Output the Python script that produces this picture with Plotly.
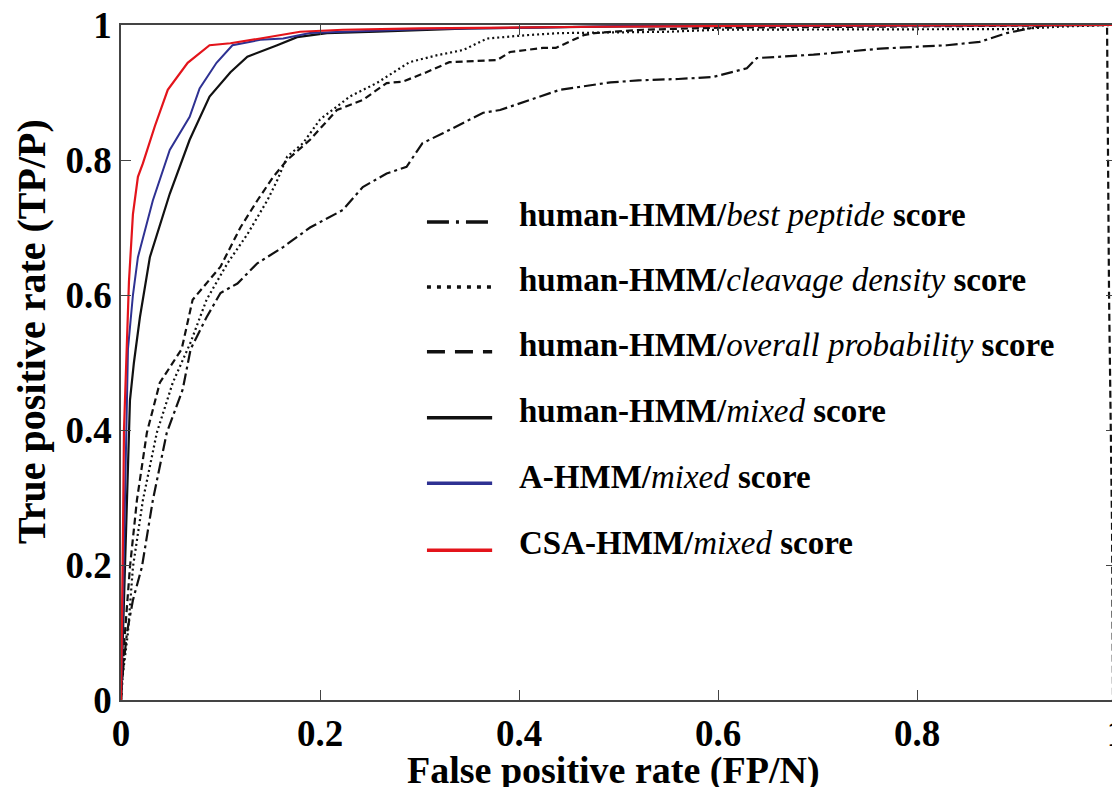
import plotly.graph_objects as go

# ---- data ----
csa_x = [0, 0.001, 0.002, 0.003, 0.005, 0.006, 0.008, 0.012, 0.017, 0.022, 0.034, 0.047, 0.067, 0.089, 0.11, 0.14, 0.18, 0.223, 0.3, 0.45, 0.65, 1.0]
csa_y = [0, 0.1, 0.25, 0.4, 0.48, 0.52, 0.62, 0.72, 0.775, 0.795, 0.85, 0.904, 0.944, 0.97, 0.973, 0.98, 0.99, 0.993, 0.995, 0.997, 0.999, 1.0]

a_x = [0, 0.002, 0.004, 0.006, 0.007, 0.012, 0.017, 0.032, 0.049, 0.069, 0.079, 0.096, 0.112, 0.14, 0.163, 0.19, 0.223, 0.31, 0.5, 1.0]
a_y = [0, 0.15, 0.3, 0.4, 0.52, 0.6, 0.656, 0.74, 0.815, 0.864, 0.906, 0.944, 0.97, 0.978, 0.98, 0.988, 0.99, 0.994, 0.998, 1.0]

mixed_x = [0, 0.002, 0.004, 0.006, 0.009, 0.013, 0.019, 0.029, 0.049, 0.069, 0.089, 0.11, 0.127, 0.157, 0.177, 0.207, 0.257, 0.35, 0.5, 1.0]
mixed_y = [0, 0.1, 0.2, 0.3, 0.444, 0.5, 0.567, 0.656, 0.75, 0.83, 0.894, 0.93, 0.953, 0.97, 0.982, 0.988, 0.99, 0.995, 0.998, 1.0]

overall_x = [0, 0.001, 0.004, 0.009, 0.016, 0.026, 0.039, 0.061, 0.072, 0.1, 0.12, 0.137, 0.153, 0.167, 0.19, 0.217, 0.243, 0.267, 0.283, 0.307, 0.33, 0.378, 0.391, 0.424, 0.437, 0.465, 0.476, 0.525, 0.6, 0.9, 0.991, 0.993, 0.996, 0.997]
overall_y = [0, 0.03, 0.1, 0.197, 0.296, 0.396, 0.47, 0.52, 0.593, 0.642, 0.70, 0.74, 0.775, 0.80, 0.83, 0.874, 0.889, 0.914, 0.916, 0.93, 0.945, 0.948, 0.96, 0.966, 0.966, 0.985, 0.988, 0.993, 0.996, 0.999, 1.0, 0.6, 0.26, 0.0]

cleavage_x = [0, 0.002, 0.007, 0.012, 0.022, 0.036, 0.052, 0.07, 0.086, 0.107, 0.127, 0.147, 0.157, 0.167, 0.183, 0.2, 0.23, 0.257, 0.29, 0.317, 0.344, 0.368, 0.408, 0.441, 0.55, 0.6, 0.9, 0.95, 1.0]
cleavage_y = [0, 0.04, 0.1, 0.197, 0.296, 0.396, 0.47, 0.53, 0.593, 0.647, 0.69, 0.74, 0.77, 0.805, 0.825, 0.86, 0.894, 0.914, 0.945, 0.955, 0.963, 0.98, 0.985, 0.988, 0.99, 0.993, 0.994, 0.998, 1.0]

best_x = [0, 0.001, 0.006, 0.012, 0.021, 0.032, 0.046, 0.062, 0.07, 0.086, 0.1, 0.117, 0.137, 0.163, 0.19, 0.223, 0.243, 0.267, 0.287, 0.303, 0.324, 0.344, 0.364, 0.381, 0.401, 0.441, 0.492, 0.52, 0.56, 0.595, 0.629, 0.639, 0.696, 0.763, 0.83, 0.863, 0.89, 0.91, 0.93, 1.0]
best_y = [0, 0.03, 0.1, 0.148, 0.197, 0.296, 0.396, 0.46, 0.52, 0.567, 0.603, 0.617, 0.647, 0.671, 0.70, 0.726, 0.76, 0.78, 0.79, 0.825, 0.84, 0.855, 0.87, 0.874, 0.884, 0.904, 0.915, 0.918, 0.92, 0.923, 0.936, 0.951, 0.956, 0.965, 0.97, 0.975, 0.988, 0.994, 1.0, 1.0]

tick_vals = [0, 0.2, 0.4, 0.6, 0.8, 1]
tick_text = ["0", "0.2", "0.4", "0.6", "0.8", "1"]

legend_labels = [
    "<b>human-HMM/</b><i>best peptide</i><b> score</b>",
    "<b>human-HMM/</b><i>cleavage density</i><b> score</b>",
    "<b>human-HMM/</b><i>overall probability</i><b> score</b>",
    "<b>human-HMM/</b><i>mixed</i><b> score</b>",
    "<b>A-HMM/</b><i>mixed</i><b> score</b>",
    "<b>CSA-HMM/</b><i>mixed</i><b> score</b>",
]
x_title = "False positive rate (FP/N)"
y_title = "True positive rate (TP/P)"

RED = "#e3141b"
BLUE = "#2e3192"
BLACK = "#111111"
FONT = "Liberation Serif"

series = [
    (best_x, best_y, BLACK, "12px,4px,3px,4px", 2.2),
    (cleavage_x, cleavage_y, BLACK, "2px,3px", 2.2),
    (overall_x, overall_y, BLACK, "7px,4px", 2.2),
    (mixed_x, mixed_y, BLACK, "solid", 2.2),
    (a_x, a_y, BLUE, "solid", 2.0),
    (csa_x, csa_y, RED, "solid", 2.2),
]
legend_dash = ["22px,7px,3px,7px", "4px,6px", "18px,10px", "solid", "solid", "solid"]

fig = go.Figure()
for (xs, ys, col, dash, w), lab in zip(series, legend_labels):
    fig.add_trace(go.Scatter(x=xs, y=ys, mode="lines", showlegend=False,
                             line=dict(color=col, dash=dash, width=w), name=lab))

# custom legend inside the plot
row_y = [0.708, 0.612, 0.516, 0.418, 0.321, 0.222]
for i, ((xs, ys, col, dash, w), lab) in enumerate(zip(series, legend_labels)):
    fig.add_shape(type="line", xref="x", yref="y", x0=0.3075, x1=0.373,
                  y0=row_y[i], y1=row_y[i],
                  line=dict(color=col, width=3.5, dash=legend_dash[i]))
    fig.add_annotation(xref="x", yref="y", x=0.398, y=row_y[i] + 0.01,
                       xanchor="left", yanchor="middle", showarrow=False,
                       text=lab, font=dict(family=FONT, size=33, color="#000"))

# axis titles
fig.add_annotation(xref="paper", yref="paper", x=0.495, y=-0.104,
                   xanchor="center", yanchor="middle", showarrow=False,
                   text="<b>" + x_title + "</b>",
                   font=dict(family=FONT, size=38, color="#000"))
fig.add_annotation(xref="paper", yref="paper", x=-0.09, y=0.546,
                   xanchor="center", yanchor="middle", showarrow=False, textangle=-90,
                   text="<b>" + y_title + "</b>",
                   font=dict(family=FONT, size=40, color="#000"))

axis_common = dict(range=[0, 1], tickvals=tick_vals, ticktext=tick_text,
                   ticks="inside", ticklen=10, tickwidth=1.2, tickcolor="#444",
                   showline=True, linecolor="#444", linewidth=1.5, mirror="ticks",
                   showgrid=False, zeroline=False, automargin=False,
                   ticklabeloverflow="allow",
                   tickfont=dict(family=FONT, size=37, color="#000", weight="bold"))

# the page body has an 8px default margin, so the figure is sized/offset for it
fig.update_layout(
    width=1112, height=779,
    margin=dict(l=113, r=4, t=17, b=87),
    paper_bgcolor="white", plot_bgcolor="white",
    xaxis=dict(**axis_common),
    yaxis=dict(**axis_common),
)

fig.write_html("out.html")
